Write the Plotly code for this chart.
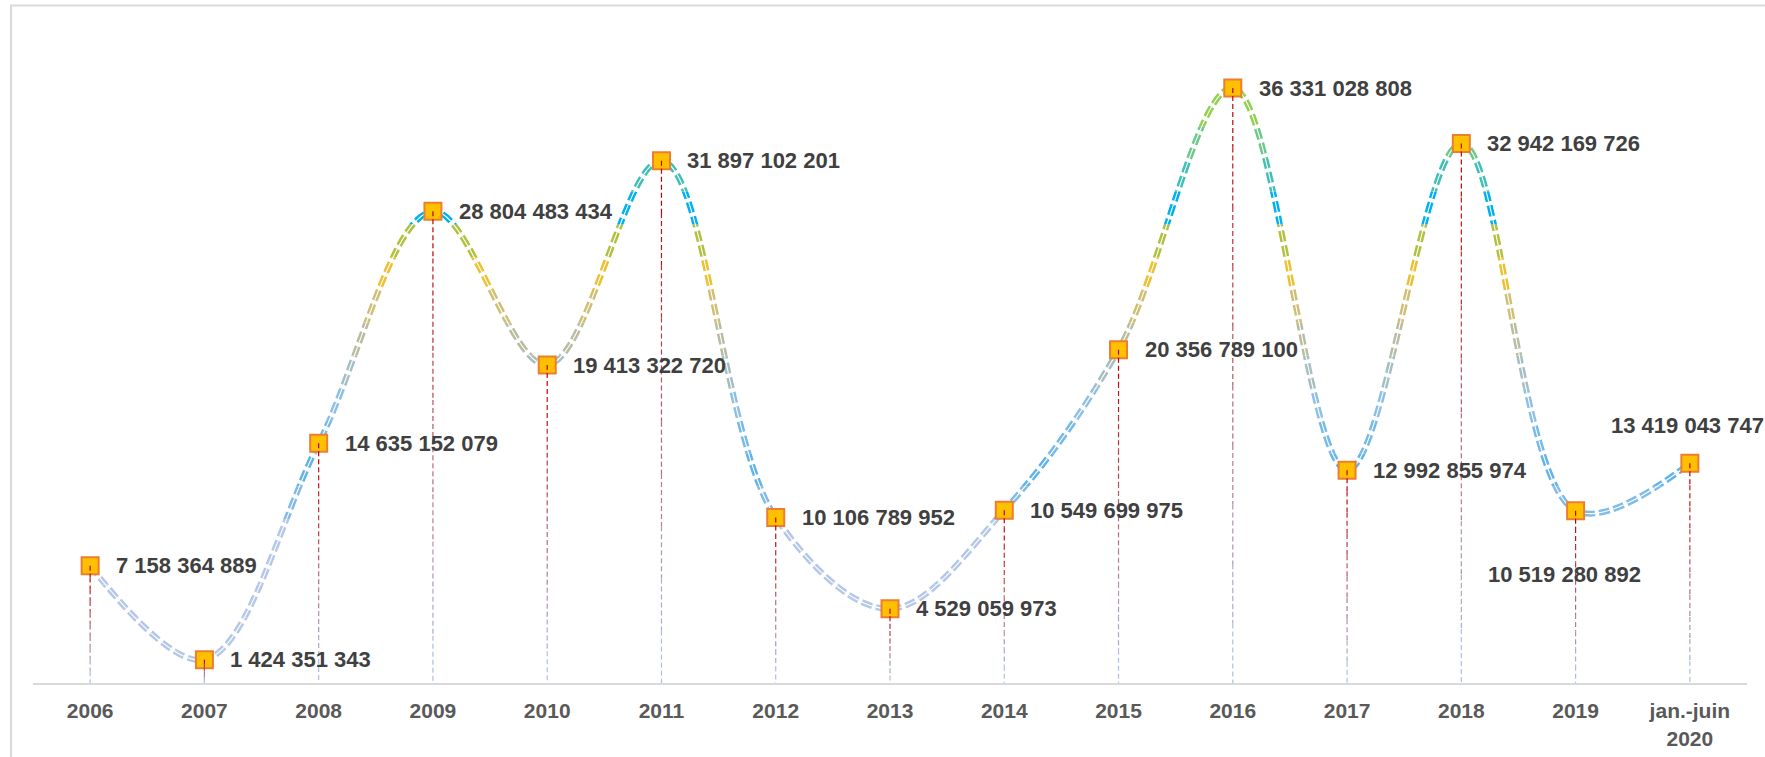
import plotly.graph_objects as go

# --- data -------------------------------------------------------------
periods = ['2006', '2007', '2008', '2009', '2010', '2011', '2012', '2013',
           '2014', '2015', '2016', '2017', '2018', '2019', 'jan.-juin<br>2020']
values = [7158364889, 1424351343, 14635152079, 28804483434, 19413322720,
          31897102201, 10106789952, 4529059973, 10549699975, 20356789100,
          36331028808, 12992855974, 32942169726, 10519280892, 13419043747]

# --- styling ----------------------------------------------------------
FONT = "Liberation Sans Narrow, Arial Narrow, Liberation Sans, Arial, sans-serif"
Y_MAX = 40e9
N_BANDS = 20
LINE_DASH = '11px,4px'

# colour of the spline by height (billions) -> vertical gradient
grad_stops = [(0, '#b4c7e7'), (9, '#b4c7e7'), (12.5, '#5bb3ea'), (17, '#8ec0e4'),
              (21, '#b9bca0'), (24, '#d8c060'), (26, '#ffc000'), (27.5, '#8cc060'),
              (29, '#00b0f0'), (31, '#3fbfb5'), (33, '#6cc98a'), (35, '#92d050'),
              (40, '#92d050')]


def hex_rgb(h):
    h = h.lstrip('#')
    return tuple(int(h[i:i + 2], 16) for i in (0, 2, 4))


def mix(c1, c2, t):
    a, b = hex_rgb(c1), hex_rgb(c2)
    return 'rgb({},{},{})'.format(*[round(a[k] + (b[k] - a[k]) * t) for k in range(3)])


def grad_color(v):
    for (v0, c0), (v1, c1) in zip(grad_stops[:-1], grad_stops[1:]):
        if v0 <= v <= v1:
            return mix(c0, c1, (v - v0) / (v1 - v0))
    return grad_stops[-1][1]


fig = go.Figure()
layout_axes = {}

# spline drawn once per horizontal band, each band clipped by its own subplot
band_h = Y_MAX / N_BANDS
for k in range(N_BANDS):
    ax_id = k + 2
    layout_axes[f'yaxis{ax_id}'] = dict(
        domain=[k / N_BANDS, (k + 1) / N_BANDS],
        range=[k * band_h, (k + 1) * band_h],
        visible=False, anchor='x', fixedrange=True)
    fig.add_trace(go.Scatter(
        x=periods, y=values, mode='lines', xaxis='x', yaxis=f'y{ax_id}',
        line=dict(shape='spline', color=grad_color((k + 0.5) * band_h / 1e9),
                  width=6, dash=LINE_DASH, simplify=False),
        hoverinfo='skip', showlegend=False))

TOP = f'y{N_BANDS + 2}'

# white core to make the compound (double) line
fig.add_trace(go.Scatter(
    x=periods, y=values, mode='lines', yaxis=TOP,
    line=dict(shape='spline', color='white', width=1.1, dash=LINE_DASH, simplify=False),
    hoverinfo='skip', showlegend=False))

# markers
fig.add_trace(go.Scatter(
    x=periods, y=values, mode='markers', yaxis=TOP,
    marker=dict(symbol='square', size=17, color='#ffc000',
                line=dict(color='#ed7d31', width=2)),
    hovertemplate='%{y:,.0f}<extra></extra>', showlegend=False))

# drop lines: red at the top fading to pale blue at the axis
n_seg = 10
for j in range(n_seg):
    xs, ys = [], []
    for p, v in zip(periods, values):
        xs += [p, p, None]
        ys += [v * (1 - j / n_seg), v * (1 - (j + 1) / n_seg), None]
    t = j / (n_seg - 1)
    fig.add_trace(go.Scatter(
        x=xs, y=ys, mode='lines', yaxis=TOP,
        line=dict(color=mix('#c00000', '#a9c0e4', t), width=1.2, dash='5px,3px'),
        hoverinfo='skip', showlegend=False))

# value labels (x given as category index so "2006" isn't read as a number)
label_offsets = {13: dict(xanchor='center', yanchor='middle', xshift=-11, yshift=-64),
                 14: dict(xanchor='center', yanchor='middle', xshift=-2, yshift=38)}
for i, v in enumerate(values):
    pos = label_offsets.get(i, dict(xanchor='left', yanchor='middle', xshift=24, yshift=0))
    fig.add_annotation(
        x=i, y=v, xref='x', yref=TOP, text=f'{v:,}'.replace(',', ' '),
        showarrow=False, font=dict(family=FONT, size=22, color='#404040', weight='bold'),
        **pos)

# outer chart border
plot_l, plot_r, plot_t, plot_b = 33, 1747, 28, 683
pw, ph = plot_r - plot_l, plot_b - plot_t
fig.add_shape(type='rect', xref='paper', yref='paper',
              x0=(11 - plot_l) / pw, x1=(1800 - plot_l) / pw,
              y0=(plot_b - 800) / ph, y1=1 + (plot_t - 5.5) / ph,
              line=dict(color='#d9d9d9', width=2), fillcolor='rgba(0,0,0,0)', layer='below')

fig.update_layout(
    width=1765, height=757,
    margin=dict(l=plot_l, r=1765 - plot_r, t=plot_t, b=757 - plot_b),
    paper_bgcolor='white', plot_bgcolor='rgba(0,0,0,0)',
    showlegend=False,
    xaxis=dict(type='category', range=[-0.5, len(periods) - 0.5], anchor='y',
               showline=True, linecolor='#d9d9d9', linewidth=2, showgrid=False,
               zeroline=False, ticks='', ticklabelstandoff=8, automargin=False,
               tickfont=dict(family=FONT, size=21, color='#595959', weight='bold')),
    yaxis=dict(domain=[0, 1], range=[0, Y_MAX], visible=False, fixedrange=True),
    **layout_axes,
    **{f'yaxis{N_BANDS + 2}': dict(overlaying='y', range=[0, Y_MAX], visible=False,
                                    fixedrange=True)},
)

fig.write_html("out.html", config={'displayModeBar': False},
               post_script="document.body.style.margin='0';")
